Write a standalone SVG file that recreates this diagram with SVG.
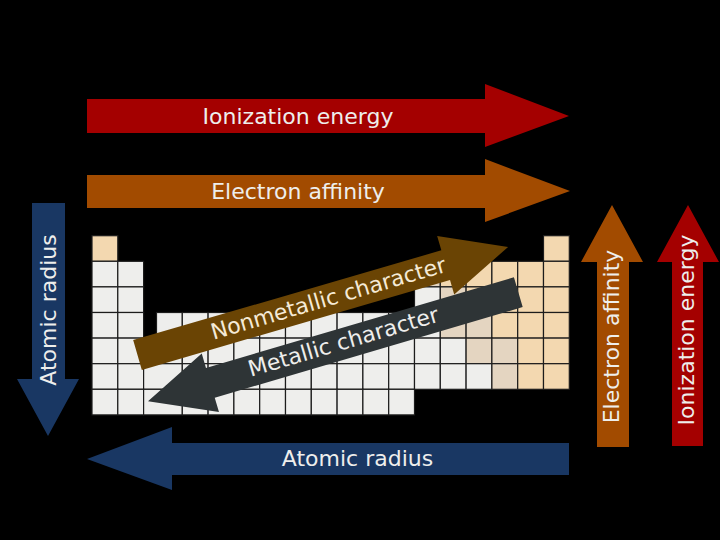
<svg xmlns="http://www.w3.org/2000/svg" width="720" height="540" viewBox="0 0 720 540">
<style>
.m{fill:#eeeeec;stroke:#1c1c1c;stroke-width:1.2}
.n{fill:#f3d8b0;stroke:#1c1c1c;stroke-width:1.2}
.s{fill:#e4d5c1;stroke:#1c1c1c;stroke-width:1.2}
.lbl{font-family:"DejaVu Sans","Noto Sans",sans-serif;font-size:22px;fill:#eeeeec;text-anchor:middle}
</style>
<defs>
<polygon id="diag" points="0,-15.5 321,-15.5 321,-30.5 386,0 321,30.5 321,15.5 0,15.5"/>
</defs>
<rect x="0" y="0" width="720" height="540" fill="#000"/>
<g id="table">
<!-- row 1 -->
<rect class="n" x="92" y="235.7" width="25.8" height="25.6"/>
<rect class="n" x="543.5" y="235.7" width="25.8" height="25.6"/>
<!-- row 2 -->
<rect class="m" x="92" y="261.3" width="25.8" height="25.6"/>
<rect class="m" x="117.8" y="261.3" width="25.8" height="25.6"/>
<rect class="s" x="414.5" y="261.3" width="25.8" height="25.6"/>
<rect class="n" x="440.3" y="261.3" width="25.8" height="25.6"/>
<rect class="n" x="466.1" y="261.3" width="25.8" height="25.6"/>
<rect class="n" x="491.9" y="261.3" width="25.8" height="25.6"/>
<rect class="n" x="517.7" y="261.3" width="25.8" height="25.6"/>
<rect class="n" x="543.5" y="261.3" width="25.8" height="25.6"/>
<!-- row 3 -->
<rect class="m" x="92" y="286.9" width="25.8" height="25.6"/>
<rect class="m" x="117.8" y="286.9" width="25.8" height="25.6"/>
<rect class="m" x="414.5" y="286.9" width="25.8" height="25.6"/>
<rect class="s" x="440.3" y="286.9" width="25.8" height="25.6"/>
<rect class="n" x="466.1" y="286.9" width="25.8" height="25.6"/>
<rect class="n" x="491.9" y="286.9" width="25.8" height="25.6"/>
<rect class="n" x="517.7" y="286.9" width="25.8" height="25.6"/>
<rect class="n" x="543.5" y="286.9" width="25.8" height="25.6"/>
<!-- row 4 -->
<rect class="m" x="92" y="312.5" width="25.8" height="25.6"/>
<rect class="m" x="117.8" y="312.5" width="25.8" height="25.6"/>
<rect class="m" x="156.5" y="312.5" width="25.8" height="25.6"/>
<rect class="m" x="182.3" y="312.5" width="25.8" height="25.6"/>
<rect class="m" x="208.1" y="312.5" width="25.8" height="25.6"/>
<rect class="m" x="233.9" y="312.5" width="25.8" height="25.6"/>
<rect class="m" x="259.7" y="312.5" width="25.8" height="25.6"/>
<rect class="m" x="285.5" y="312.5" width="25.8" height="25.6"/>
<rect class="m" x="311.3" y="312.5" width="25.8" height="25.6"/>
<rect class="m" x="337.1" y="312.5" width="25.8" height="25.6"/>
<rect class="m" x="362.9" y="312.5" width="25.8" height="25.6"/>
<rect class="m" x="388.7" y="312.5" width="25.8" height="25.6"/>
<rect class="m" x="414.5" y="312.5" width="25.8" height="25.6"/>
<rect class="s" x="440.3" y="312.5" width="25.8" height="25.6"/>
<rect class="s" x="466.1" y="312.5" width="25.8" height="25.6"/>
<rect class="n" x="491.9" y="312.5" width="25.8" height="25.6"/>
<rect class="n" x="517.7" y="312.5" width="25.8" height="25.6"/>
<rect class="n" x="543.5" y="312.5" width="25.8" height="25.6"/>
<!-- row 5 -->
<rect class="m" x="92" y="338.1" width="25.8" height="25.6"/>
<rect class="m" x="117.8" y="338.1" width="25.8" height="25.6"/>
<rect class="m" x="156.5" y="338.1" width="25.8" height="25.6"/>
<rect class="m" x="182.3" y="338.1" width="25.8" height="25.6"/>
<rect class="m" x="208.1" y="338.1" width="25.8" height="25.6"/>
<rect class="m" x="233.9" y="338.1" width="25.8" height="25.6"/>
<rect class="m" x="259.7" y="338.1" width="25.8" height="25.6"/>
<rect class="m" x="285.5" y="338.1" width="25.8" height="25.6"/>
<rect class="m" x="311.3" y="338.1" width="25.8" height="25.6"/>
<rect class="m" x="337.1" y="338.1" width="25.8" height="25.6"/>
<rect class="m" x="362.9" y="338.1" width="25.8" height="25.6"/>
<rect class="m" x="388.7" y="338.1" width="25.8" height="25.6"/>
<rect class="m" x="414.5" y="338.1" width="25.8" height="25.6"/>
<rect class="m" x="440.3" y="338.1" width="25.8" height="25.6"/>
<rect class="s" x="466.1" y="338.1" width="25.8" height="25.6"/>
<rect class="s" x="491.9" y="338.1" width="25.8" height="25.6"/>
<rect class="n" x="517.7" y="338.1" width="25.8" height="25.6"/>
<rect class="n" x="543.5" y="338.1" width="25.8" height="25.6"/>
<!-- row 6 -->
<rect class="m" x="92" y="363.7" width="25.8" height="25.6"/>
<rect class="m" x="117.8" y="363.7" width="25.8" height="25.6"/>
<rect class="m" x="143.6" y="363.7" width="38.7" height="25.6"/>
<rect class="m" x="182.3" y="363.7" width="25.8" height="25.6"/>
<rect class="m" x="208.1" y="363.7" width="25.8" height="25.6"/>
<rect class="m" x="233.9" y="363.7" width="25.8" height="25.6"/>
<rect class="m" x="259.7" y="363.7" width="25.8" height="25.6"/>
<rect class="m" x="285.5" y="363.7" width="25.8" height="25.6"/>
<rect class="m" x="311.3" y="363.7" width="25.8" height="25.6"/>
<rect class="m" x="337.1" y="363.7" width="25.8" height="25.6"/>
<rect class="m" x="362.9" y="363.7" width="25.8" height="25.6"/>
<rect class="m" x="388.7" y="363.7" width="25.8" height="25.6"/>
<rect class="m" x="414.5" y="363.7" width="25.8" height="25.6"/>
<rect class="m" x="440.3" y="363.7" width="25.8" height="25.6"/>
<rect class="m" x="466.1" y="363.7" width="25.8" height="25.6"/>
<rect class="s" x="491.9" y="363.7" width="25.8" height="25.6"/>
<rect class="n" x="517.7" y="363.7" width="25.8" height="25.6"/>
<rect class="n" x="543.5" y="363.7" width="25.8" height="25.6"/>
<!-- row 7 -->
<rect class="m" x="92" y="389.3" width="25.8" height="25.6"/>
<rect class="m" x="117.8" y="389.3" width="25.8" height="25.6"/>
<rect class="m" x="143.6" y="389.3" width="38.7" height="25.6"/>
<rect class="m" x="182.3" y="389.3" width="25.8" height="25.6"/>
<rect class="m" x="208.1" y="389.3" width="25.8" height="25.6"/>
<rect class="m" x="233.9" y="389.3" width="25.8" height="25.6"/>
<rect class="m" x="259.7" y="389.3" width="25.8" height="25.6"/>
<rect class="m" x="285.5" y="389.3" width="25.8" height="25.6"/>
<rect class="m" x="311.3" y="389.3" width="25.8" height="25.6"/>
<rect class="m" x="337.1" y="389.3" width="25.8" height="25.6"/>
<rect class="m" x="362.9" y="389.3" width="25.8" height="25.6"/>
<rect class="m" x="388.7" y="389.3" width="25.8" height="25.6"/>
</g>
<g id="arrows">
<g id="ionization-h">
<polygon fill="#a40000" points="87,99 485,99 485,84 569,116 485,147 485,133 87,133"/>
<text class="lbl" x="298" y="123.5">Ionization energy</text>
</g>
<g id="affinity-h">
<polygon fill="#a24b00" points="87,175 485,175 485,159 570,191 485,222 485,208 87,208"/>
<text class="lbl" x="298" y="199">Electron affinity</text>
</g>
<g id="radius-h">
<polygon fill="#193763" points="569,443 172,443 172,427 87,459 172,490 172,475 569,475"/>
<text class="lbl" x="357.5" y="465.5">Atomic radius</text>
</g>
<g id="radius-v">
<polygon fill="#193763" points="32,203 65,203 65,379 79,379 48,436 17,379 32,379"/>
<text class="lbl" transform="translate(55.5,310) rotate(-90)">Atomic radius</text>
</g>
<g id="affinity-v">
<polygon fill="#a24b00" points="597,447 597,262 581,262 612,205 643,262 629,262 629,447"/>
<text class="lbl" transform="translate(619,336.5) rotate(-90)">Electron affinity</text>
</g>
<g id="ionization-v">
<polygon fill="#a40000" points="672,446 672,262 657,262 688,205 719,262 703,262 703,446"/>
<text class="lbl" transform="translate(693.5,330) rotate(-90)">Ionization energy</text>
</g>
<g id="nonmetallic">
<use href="#diag" fill="#6a4404" transform="translate(137.5,355) rotate(-16.25)"/>
<text class="lbl" style="fill:#f5ead6" transform="translate(137.5,355) rotate(-16.25)" x="199" y="6.5">Nonmetallic character</text>
</g>
<g id="metallic">
<use href="#diag" fill="#2e3436" transform="translate(518.3,292.2) rotate(163.6)"/>
<text class="lbl" transform="translate(345.5,349) rotate(-16.4)">Metallic character</text>
</g>
</g>
</svg>
